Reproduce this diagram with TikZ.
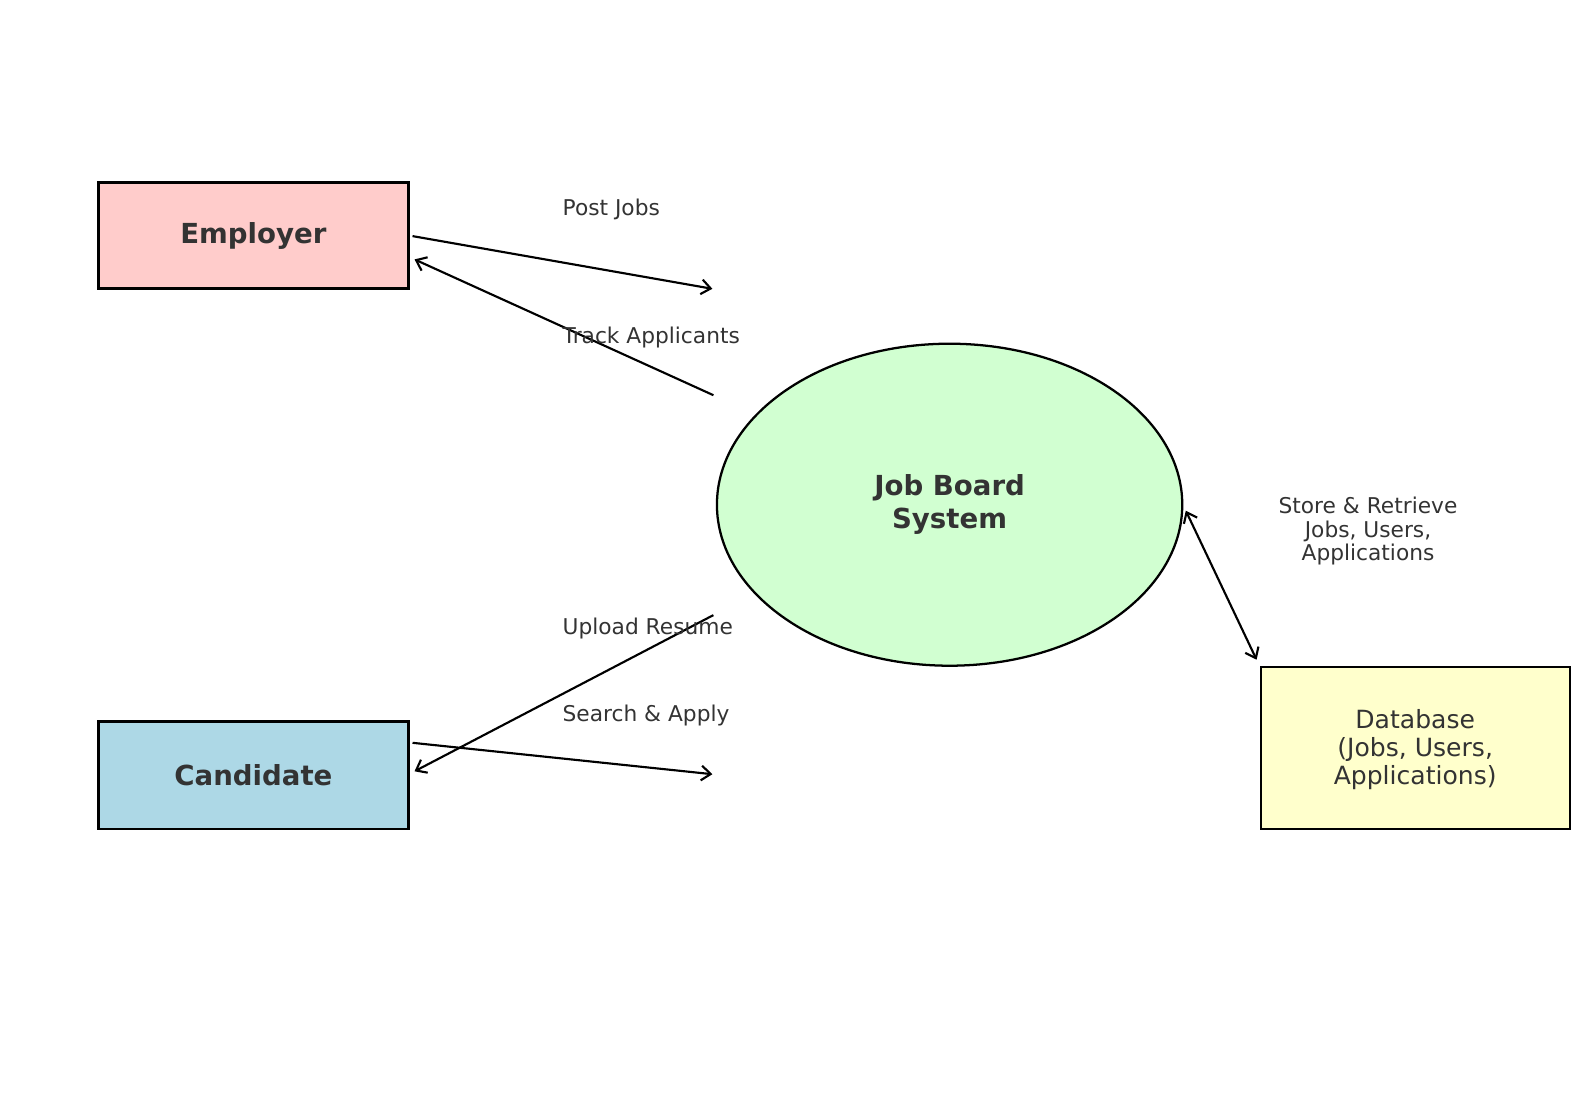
\documentclass[tikz,border=0pt]{standalone}
\usepackage{fontspec}
\setmainfont{DejaVu Sans}
\usepackage{tikz}
\usetikzlibrary{shapes.geometric,arrows.meta}

\begin{document}
\begin{tikzpicture}[
  x=0.75pt, y=-0.75pt,
  ent/.style={draw=black, line width=1.7pt, text=txt, minimum width=232.5pt, minimum height=79.5pt,
              font=\fontsize{20.7}{24}\selectfont\bfseries, inner sep=0pt},
  proc/.style={ellipse, draw=black, line width=1.7pt, fill=cSys, text=txt, inner sep=0pt,
               minimum width=349pt, minimum height=241.5pt, align=center,
               font=\fontsize{20.7}{24.6}\selectfont\bfseries},
  store/.style={draw=black, line width=1.7pt, fill=cData, text=txt, minimum width=231.75pt,
                minimum height=121.6pt, align=center, font=\fontsize{18.8}{20.9}\selectfont},
  flow/.style={line width=1.6pt, -{Straight Barb[length=7pt,width=11pt,line width=1.6pt]}},
  bothflow/.style={line width=1.6pt, {Straight Barb[length=7pt,width=11pt,line width=1.6pt]}-{Straight Barb[length=7pt,width=11pt,line width=1.6pt]}},
  lbl/.style={text=txt, font=\fontsize{16.3}{17.6}\selectfont, inner sep=0pt, align=center},
]
\definecolor{txt}{HTML}{333333}
\definecolor{cEmp}{HTML}{FFCCCB}
\definecolor{cCand}{HTML}{ADD8E6}
\definecolor{cSys}{HTML}{D1FFD1}
\definecolor{cData}{HTML}{FFFFCC}

\useasboundingbox (0,0) rectangle (1589,1118);

% entities and process
\node[ent, fill=cEmp] (emp) at (253.4,235.6) {Employer};
\node[ent, fill=cCand, minimum height=80.6pt] (cand) at (253.4,775.3) {Candidate};
\node[proc] (sys) at (949.6,504.7) {Job Board\\System};
\node[store] (db) at (1415.2,747.9) {};
\node[text=txt, align=center, font=\fontsize{18.8}{20.9}\selectfont] (dbText) at (1415.2,749.5) {Database\\(Jobs, Users,\\Applications)};

% free ends next to the process
\coordinate (postEnd) at (712.4,288.8);
\coordinate (trackStart) at (713.4,395.2);
\coordinate (uploadStart) at (713.4,615.1);
\coordinate (searchEnd) at (712.4,774.2);

% flows
\draw[flow] ([shift={(3,0.5)}]emp.east) -- (postEnd);
\draw[flow] (trackStart) -- ([shift={(5,23.8)}]emp.east);
\draw[flow] (uploadStart) -- ([shift={(5,-4)}]cand.east);
\draw[flow] ([shift={(3,-32.5)}]cand.east) -- (searchEnd);
\draw[bothflow] ([shift={(2.4,6)}]sys.east) -- ([shift={(-3,-6)}]db.north west);

% flow labels
\node[lbl, anchor=west] (lPost) at (562.4,209.5) {Post Jobs};
\node[lbl, anchor=west] (lTrack) at (562.4,337.5) {Track Applicants};
\node[lbl, anchor=west] (lUpload) at (562.4,628.5) {Upload Resume};
\node[lbl, anchor=west] (lSearch) at (562.4,715.5) {Search \& Apply};
\node[lbl] (lStore) at (1368,531) {Store \& Retrieve\\Jobs, Users,\\Applications};
\end{tikzpicture}
\end{document}
